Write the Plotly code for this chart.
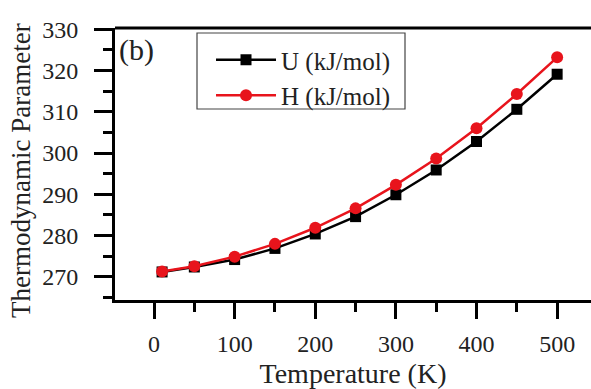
import plotly.graph_objects as go

temperature = [10, 50, 100, 150, 200, 250, 300, 350, 400, 450, 500]
u_values = [271.2, 272.4, 274.2, 276.9, 280.4, 284.6, 289.9, 295.9, 302.8, 310.6, 319.1]
h_values = [271.3, 272.6, 274.9, 278.0, 281.9, 286.6, 292.3, 298.7, 306.0, 314.3, 323.2]

x_ticks = [0, 100, 200, 300, 400, 500]
y_ticks = [270, 280, 290, 300, 310, 320, 330]

FONT = "Liberation Serif, Times New Roman, serif"

fig = go.Figure()
fig.add_trace(go.Scatter(
    x=temperature, y=u_values, name="U (kJ/mol)", mode="lines+markers",
    line=dict(color="black", width=2.5),
    marker=dict(symbol="square", size=11, color="black"),
))
fig.add_trace(go.Scatter(
    x=temperature, y=h_values, name="H (kJ/mol)", mode="lines+markers",
    line=dict(color="#e8141c", width=2.5),
    marker=dict(symbol="circle", size=12, color="#e8141c"),
))

# plot area: x 115..591 px, y 28..300 px
fig.update_layout(
    width=591, height=389,
    margin=dict(l=115, r=0, t=28, b=89),
    paper_bgcolor="white", plot_bgcolor="white",
    font=dict(family=FONT, color="#222", size=23),
    showlegend=True,
    legend=dict(
        x=0.2017, y=0.9669, xanchor="left", yanchor="top",
        borderwidth=0, bgcolor="rgba(0,0,0,0)",
        font=dict(family=FONT, size=25, color="#222"),
        itemwidth=60, tracegroupgap=0,
    ),
    xaxis=dict(
        range=[-48.4, 542], tickvals=x_ticks,
        showline=True, linecolor="black", linewidth=3, mirror=False,
        ticks="outside", ticklen=16, tickwidth=3, tickcolor="black",
        minor=dict(dtick=50, tick0=0, ticks="outside", ticklen=9, tickwidth=3, tickcolor="black"),
        showgrid=False, zeroline=False,
        ticklabelstandoff=4,
        tickfont=dict(family=FONT, size=24, color="#222"),
        title=dict(text="Temperature (K)", font=dict(family=FONT, size=28, color="#222"), standoff=8),
    ),
    yaxis=dict(
        range=[264.4, 330.3], tickvals=y_ticks,
        showline=True, linecolor="black", linewidth=3, mirror=False,
        ticks="outside", ticklen=18, tickwidth=3, tickcolor="black",
        minor=dict(dtick=5, tick0=270, ticks="outside", ticklen=9, tickwidth=3, tickcolor="black"),
        showgrid=False, zeroline=False,
        ticklabelstandoff=11,
        tickfont=dict(family=FONT, size=24, color="#222"),
    ),
    shapes=[
        dict(type="line", xref="paper", yref="paper", x0=0, x1=1, y0=1, y1=1,
             line=dict(color="black", width=3)),
        # legend frame
        dict(type="rect", xref="paper", yref="paper",
             x0=(197 - 115) / 476, x1=(405 - 115) / 476,
             y0=(300 - 109) / 272, y1=(300 - 33) / 272,
             line=dict(color="#444", width=1.2), fillcolor="white", layer="below"),
    ],
    annotations=[
        dict(text="(b)", xref="paper", yref="paper", x=0.005, y=0.99,
             xanchor="left", yanchor="top", showarrow=False,
             font=dict(family=FONT, size=30, color="#222")),
        dict(text="Thermodynamic Parameter", xref="paper", yref="paper",
             x=(21 - 115) / 476, y=(300 - 171) / 272, xanchor="center", yanchor="middle",
             textangle=-90, showarrow=False,
             font=dict(family=FONT, size=27, color="#222")),
    ],
)

fig.write_html("out.html")
